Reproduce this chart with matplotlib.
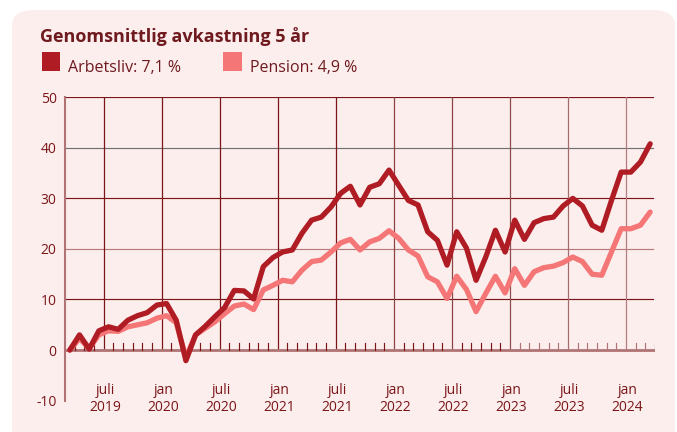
import numpy as np
import matplotlib
matplotlib.use("Agg")
from matplotlib import pyplot as plt
from matplotlib.patches import FancyBboxPatch, Rectangle

plt.rcParams['font.family'] = ['Open Sans', 'DejaVu Sans']

# Monthly values, mid-March 2019 .. mid-March 2024 (percent)
Arbetsliv = [0, 3.0, 0.2, 3.8, 4.6, 4.1, 5.9, 6.8, 7.4, 8.9, 9.2, 5.9, -2.1,
             3.0, 4.7, 6.6, 8.4, 11.8, 11.7, 10.1, 16.5, 18.3, 19.4, 19.8,
             23.1, 25.7, 26.3, 28.3, 31.0, 32.4, 28.7, 32.2, 32.9, 35.6,
             32.6, 29.6, 28.7, 23.4, 21.7, 16.8, 23.4, 20.2, 13.8, 18.4,
             23.7, 19.4, 25.7, 21.9, 25.2, 26.0, 26.3, 28.5, 30.0, 28.5,
             24.7, 23.7, 29.6, 35.2, 35.2, 37.2, 40.8]
Pension = [0, 2.3, 0.3, 3.0, 3.8, 3.7, 4.6, 5.0, 5.4, 6.3, 6.8, 5.4, -1.5,
           3.0, 4.3, 5.6, 7.2, 8.7, 9.1, 8.0, 11.9, 12.8, 13.8, 13.5,
           15.8, 17.5, 17.8, 19.4, 21.2, 21.9, 19.8, 21.4, 22.1, 23.6,
           22.1, 19.8, 18.6, 14.5, 13.5, 10.2, 14.6, 12.0, 7.6, 11.2,
           14.6, 11.3, 16.1, 12.8, 15.5, 16.3, 16.6, 17.3, 18.4, 17.5,
           15.0, 14.8, 19.4, 24.0, 24.0, 24.7, 27.3]

# x axis in months since Jan 2019
months = np.arange(len(Arbetsliv)) + 2.5
xlabels = ["juli\n2019", "jan\n2020", "juli\n2020", "jan\n2021", "juli\n2021",
           "jan\n2022", "juli\n2022", "jan\n2023", "juli\n2023", "jan\n2024"]
xlabel_pos = [6, 12, 18, 24, 30, 36, 42, 48, 54, 60]
yticks = [-10, 0, 10, 20, 30, 40, 50]

bg = '#fdeeee'
maroon = '#7a1518'
dark = '#b01c24'
light = '#f47676'
axis_col = '#b07474'

W, H = 677, 432
fig = plt.figure(figsize=(W / 100, H / 100), dpi=100)
fig.patch.set_facecolor('white')
panel = FancyBboxPatch((12 / W, -30 / H), 663 / W, (H - 10 + 30) / H,
                       boxstyle="round,pad=0,rounding_size=0.035",
                       transform=fig.transFigure, facecolor=bg,
                       edgecolor='none', zorder=-10)
fig.patches.append(panel)

fig.text(40 / W, 1 - 41.7 / H, "Genomsnittlig avkastning 5 år",
         fontsize=13, fontweight='bold', color='#6e1a1e', va='baseline')
fig.patches.append(Rectangle((41.5 / W, 1 - 70.5 / H), 18.5 / W, 18.5 / H,
                             transform=fig.transFigure, facecolor=dark, edgecolor='none'))
fig.text(68 / W, 1 - 71.5 / H, "Arbetsliv: 7,1 %", fontsize=11.5, color='#6e1a1e', va='baseline')
fig.patches.append(Rectangle((223 / W, 1 - 70.5 / H), 18.5 / W, 18.5 / H,
                             transform=fig.transFigure, facecolor=light, edgecolor='none'))
fig.text(250 / W, 1 - 71.5 / H, "Pension: 4,9 %", fontsize=11.5, color='#6e1a1e', va='baseline')

ax = fig.add_axes([65 / W, 1 - 400.6 / H, 590 / W, (400.6 - 97.3) / H])
ax.set_facecolor('none')
ax.set_xlim(2.0, 63)
ax.set_ylim(-10, 50)

# grid
hcol = {10: maroon, 20: '#b87a7a', 30: maroon, 40: '#707070', 50: maroon}
for v in [10, 20, 30, 40, 50]:
    ax.plot([2.0, 62.8], [v, v], color=hcol[v], lw=0.85, zorder=1)
vcol = [maroon, maroon, maroon, maroon, maroon, '#8a4444', '#8a4444',
        '#8e4c4c', '#a46c6c', '#b47c7c']
for p, c in zip(xlabel_pos, vcol):
    ax.plot([p, p], [0, 50], color=c, lw=0.9, zorder=1)

# baseline with monthly ticks
ax.plot([2.0, 63], [0, 0], color=axis_col, lw=2, zorder=2)
for m in range(3, 64):
    if m in xlabel_pos:
        continue
    ax.plot([m, m], [0, 1.3], color=maroon if m < 48 else axis_col, lw=0.85, zorder=2)

ax.plot(months, Pension, color=light, lw=3.8, solid_joinstyle='round',
        solid_capstyle='round', zorder=3)
ax.plot(months, Arbetsliv, color=dark, lw=3.8, solid_joinstyle='round',
        solid_capstyle='round', zorder=4)

for p, lab in zip(xlabel_pos, xlabels):
    ax.text(p + 0.15, -9.7, lab, ha='center', va='center', fontsize=10,
            color=maroon, linespacing=1.25, clip_on=False)

for s in ['top', 'right', 'bottom']:
    ax.spines[s].set_visible(False)
ax.spines['left'].set_color(axis_col)
ax.spines['left'].set_linewidth(1.5)
ax.set_xticks([])
ax.set_yticks(yticks)
ax.set_yticklabels([str(v) for v in yticks])
ax.tick_params(axis='y', length=0, pad=6, labelsize=10, labelcolor=maroon)

fig.savefig('out.png', dpi=100)
